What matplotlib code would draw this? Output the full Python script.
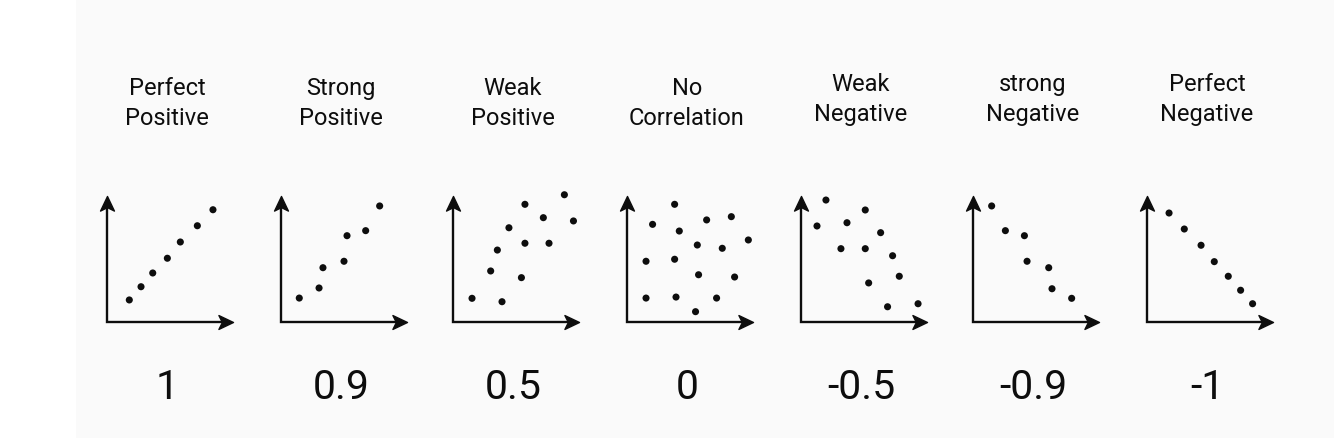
"""
correlation_panels.py — seven small scatter sketches showing correlation
strength, from perfect positive (1) to perfect negative (-1).
"""

import numpy as np
import matplotlib
matplotlib.use("Agg")
import matplotlib.pyplot as plt
from matplotlib.patches import Rectangle
from matplotlib.path import Path

# ---------------------------------------------------------------------------
# Data (each panel's axes run 0..10)
# ---------------------------------------------------------------------------

titles = ["Perfect\nPositive", "Strong\nPositive", "Weak\nPositive",
          "No\nCorrelation", "Weak\nNegative", "strong\nNegative",
          "Perfect\nNegative"]
coef_labels = ["1", "0.9", "0.5", "0", "-0.5", "-0.9", "-1"]

perfect_pos_x = [1.77, 2.70, 3.63, 4.79, 5.82, 7.17, 8.41]
perfect_pos_y = [1.75, 2.80, 3.89, 5.06, 6.35, 7.64, 8.91]

strong_pos_x = [1.45, 3.02, 3.33, 5.00, 5.24, 6.72, 7.83]
strong_pos_y = [1.90, 2.70, 4.31, 4.82, 6.85, 7.25, 9.21]

weak_pos_x = [1.51, 3.89, 2.99, 5.43, 3.52, 5.71, 7.62, 4.44, 5.71, 7.17, 8.84, 9.56]
weak_pos_y = [1.88, 1.61, 4.05, 3.52, 5.71, 6.25, 6.25, 7.48, 9.34, 8.28, 10.10, 8.02]

no_corr_x = [1.51, 3.89, 5.44, 7.11, 1.51, 3.78, 5.68, 8.54,
             2.03, 4.15, 5.58, 7.56, 9.63, 3.78, 6.32, 8.28]
no_corr_y = [1.90, 1.98, 0.82, 1.90, 4.82, 4.98, 3.75, 3.57,
             7.75, 7.22, 6.11, 5.85, 6.51, 9.34, 8.10, 8.36]

weak_neg_x = [1.98, 1.27, 5.10, 3.65, 6.32, 3.17, 5.10, 7.27, 7.80, 5.37, 6.87, 9.29]
weak_neg_y = [9.68, 7.62, 8.89, 7.88, 7.09, 5.82, 5.82, 5.26, 3.63, 3.10, 1.21, 1.45]

strong_neg_x = [1.48, 2.57, 4.08, 4.29, 6.01, 6.27, 7.83]
strong_neg_y = [9.21, 7.25, 6.85, 4.82, 4.31, 2.64, 1.88]

perfect_neg_x = [1.75, 2.96, 4.29, 5.34, 6.45, 7.43, 8.38]
perfect_neg_y = [8.65, 7.38, 6.09, 4.79, 3.63, 2.52, 1.45]

panel_x = [perfect_pos_x, strong_pos_x, weak_pos_x, no_corr_x,
           weak_neg_x, strong_neg_x, perfect_neg_x]
panel_y = [perfect_pos_y, strong_pos_y, weak_pos_y, no_corr_y,
           weak_neg_y, strong_neg_y, perfect_neg_y]

# ---------------------------------------------------------------------------
# Layout (pixels, figure is 1334 x 439 at dpi 100)
# ---------------------------------------------------------------------------

W, H = 1334, 439
origin_left = [107, 281, 453, 627, 801, 973, 1147]   # y-axis position per panel
origin_bottom = H - 323
axis_len = 126
title_shift = [0, 0, 0, 0, 4, 4, 4]                  # later titles sit a bit higher

INK = "#0d0d0d"
plt.rcParams["font.family"] = ["Roboto", "DejaVu Sans"]

# stealth-style arrowheads (tip at origin)
head_up = Path([(0, 0), (0.5, -1.05), (0, -0.8), (-0.5, -1.05), (0, 0)],
               [Path.MOVETO, Path.LINETO, Path.LINETO, Path.LINETO, Path.CLOSEPOLY])
head_right = Path([(0, 0), (-1.05, 0.5), (-0.8, 0), (-1.05, -0.5), (0, 0)],
                  [Path.MOVETO, Path.LINETO, Path.LINETO, Path.LINETO, Path.CLOSEPOLY])

fig = plt.figure(figsize=(W / 100, H / 100), dpi=100)
fig.patch.set_facecolor("white")
# faint grey backdrop, leaving a white strip on the left
fig.patches.append(Rectangle((76 / W, 0), 1 - 76 / W, 1, transform=fig.transFigure,
                             facecolor="#fafafa", edgecolor="none", zorder=-1))

for i in range(len(titles)):
    ax = fig.add_axes([origin_left[i] / W, origin_bottom / H, axis_len / W, axis_len / H])
    ax.set_xlim(0, 10)
    ax.set_ylim(0, 10)
    ax.axis("off")

    # axes with arrowheads
    ax.plot([0, 0, 9.5], [9.5, 0, 0], color=INK, lw=1.7,
            solid_joinstyle="miter", clip_on=False)
    ax.plot([0], [10], marker=head_up, markersize=21, color=INK, clip_on=False)
    ax.plot([10], [0], marker=head_right, markersize=21, color=INK, clip_on=False)

    ax.scatter(panel_x[i], panel_y[i], s=26, color=INK, edgecolors="none",
               clip_on=False, zorder=3)

    cx = (origin_left[i] + 60) / W
    lines = titles[i].split("\n")
    fig.text(cx, (H - 95 + title_shift[i]) / H, lines[0], ha="center",
             va="baseline", fontsize=17, color=INK)
    fig.text(cx, (H - 125 + title_shift[i]) / H, lines[1], ha="center",
             va="baseline", fontsize=17, color=INK)
    fig.text(cx, (H - 399) / H, coef_labels[i], ha="center", va="baseline",
             fontsize=29.5, color=INK)

fig.savefig("out.png", dpi=100)
